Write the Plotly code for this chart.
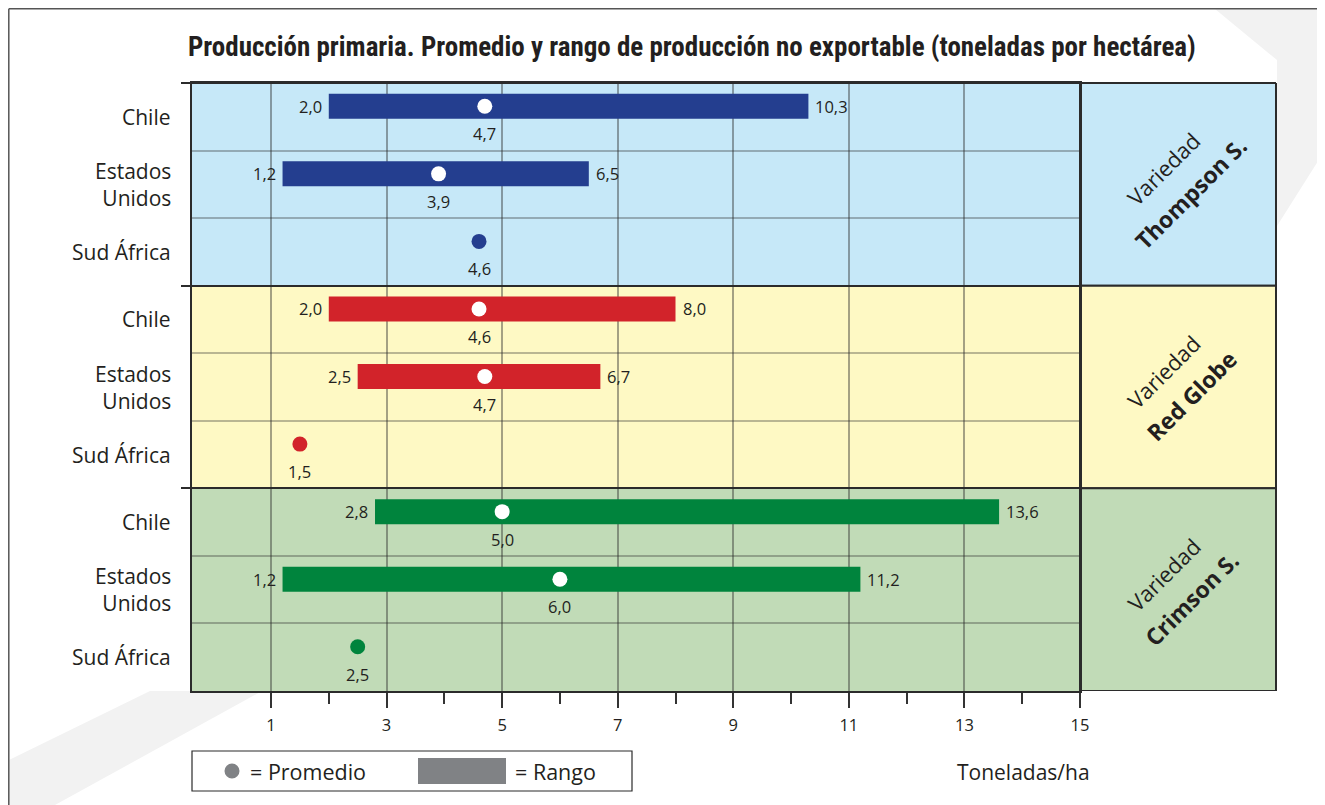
import plotly.graph_objects as go

# ---------------- data ----------------
varieties = ["Thompson S.", "Red Globe", "Crimson S."]
countries = ["Chile", "Estados<br>Unidos", "Sud África"]

thompson_min = [2.0, 1.2, None]
thompson_max = [10.3, 6.5, None]
thompson_avg = [4.7, 3.9, 4.6]

redglobe_min = [2.0, 2.5, None]
redglobe_max = [8.0, 6.7, None]
redglobe_avg = [4.6, 4.7, 1.5]

crimson_min = [2.8, 1.2, None]
crimson_max = [13.6, 11.2, None]
crimson_avg = [5.0, 6.0, 2.5]

x_tick_values = [1, 3, 5, 7, 9, 11, 13, 15]
x_minor_values = [2, 4, 6, 8, 10, 12, 14]

title_text = "Producción primaria. Promedio y rango de producción no exportable (toneladas por hectárea)"
unit_text = "Toneladas/ha"

# ---------------- style ----------------
bar_colors = ["#243e8f", "#d2232a", "#00843d"]
bg_colors = ["#c6e8f8", "#fef9c4", "#c1dbb7"]
ink = "#231f20"
frame = "#2b2b2b"
FONT = "Open Sans, Noto Sans, sans-serif"
TITLE_FONT = "Liberation Sans Narrow, Arial Narrow, Roboto Condensed, sans-serif"

# the page adds an 8px body margin; figure coordinates = page coordinates - 8
OFF = 8
W, H = 1325 - OFF, 805 - OFF
ML, MR, MT, MB = 192 - OFF, 49, 83 - OFF, 114
PW = W - ML - MR
PH = H - MT - MB
PLOT_RIGHT = 1080


def px(xp):  # page px -> paper x
    return (xp - OFF - ML) / PW


def py(yp):  # page px -> paper y
    return (H - MB - (yp - OFF)) / PH


def fmt(v):
    return f"{v:.1f}".replace(".", ",")


groups = [
    (thompson_min, thompson_max, thompson_avg),
    (redglobe_min, redglobe_max, redglobe_avg),
    (crimson_min, crimson_max, crimson_avg),
]

n_rows = len(varieties) * len(countries)
BAR_OFF = 0.155
fig = go.Figure()
annotations = []
shapes = []

for gi, (mins, maxs, avgs) in enumerate(groups):
    color = bar_colors[gi]
    centers = [n_rows - 0.5 - (gi * 3 + k) for k in range(3)]
    by, bx, bb = [], [], []
    for k in range(3):
        if mins[k] is not None:
            by.append(centers[k] + BAR_OFF)
            bx.append(maxs[k] - mins[k])
            bb.append(mins[k])
            annotations.append(dict(x=mins[k], y=centers[k] + BAR_OFF, xref="x", yref="y",
                                    text=fmt(mins[k]), showarrow=False, xanchor="right",
                                    yanchor="middle", xshift=-5,
                                    font=dict(family=FONT, size=16.5, color=ink)))
            annotations.append(dict(x=maxs[k], y=centers[k] + BAR_OFF, xref="x", yref="y",
                                    text=fmt(maxs[k]), showarrow=False, xanchor="left",
                                    yanchor="middle", xshift=5,
                                    font=dict(family=FONT, size=16.5, color=ink)))
    fig.add_trace(go.Bar(orientation="h", y=by, x=bx, base=bb, width=0.37,
                         marker=dict(color=color, line=dict(width=0)),
                         showlegend=False, hoverinfo="skip"))
    dot_colors = ["white" if mins[k] is not None else color for k in range(3)]
    fig.add_trace(go.Scatter(x=avgs, y=[c + BAR_OFF for c in centers], mode="markers",
                             marker=dict(size=15, color=dot_colors, line=dict(width=0)),
                             showlegend=False, hoverinfo="skip"))
    for k in range(3):
        annotations.append(dict(x=avgs[k], y=centers[k], xref="x", yref="y",
                                text=fmt(avgs[k]), showarrow=False, yshift=-17,
                                xanchor="center", yanchor="middle",
                                font=dict(family=FONT, size=16.5, color=ink)))
        annotations.append(dict(x=px(173), y=centers[k], xref="paper", yref="y",
                                text=countries[k], showarrow=False, xanchor="right",
                                yanchor="middle", align="right",
                                font=dict(family=FONT, size=21, color=ink)))
    y0 = n_rows - (gi + 1) * 3
    y1 = n_rows - gi * 3
    shapes.append(dict(type="rect", xref="x domain", yref="y", x0=0, x1=1, y0=y0, y1=y1,
                       fillcolor=bg_colors[gi], line=dict(width=0), layer="below"))
    shapes.append(dict(type="rect", xref="paper", yref="y", x0=px(PLOT_RIGHT), x1=px(1276),
                       y0=y0, y1=y1, fillcolor=bg_colors[gi],
                       line=dict(width=2, color=frame), layer="below"))
    gc = (y0 + y1) / 2
    annotations.append(dict(x=px(1178), y=gc, xref="paper", yref="y", text="Variedad",
                            showarrow=False, textangle=-45, xshift=-15, yshift=15,
                            xanchor="center", yanchor="middle",
                            font=dict(family=FONT, size=22, color=ink)))
    annotations.append(dict(x=px(1178), y=gc, xref="paper", yref="y",
                            text="<b>" + varieties[gi] + "</b>",
                            showarrow=False, textangle=-45, xshift=13, yshift=-9,
                            xanchor="center", yanchor="middle",
                            font=dict(family=FONT, size=23, color=ink)))

# page decorations (border + soft swooshes)
shapes.insert(0, dict(type="path", xref="paper", yref="paper",
                      path=f"M {px(1215)},{py(9)} L {px(1325)},{py(9)} L {px(1325)},{py(150)} "
                           f"L {px(1277)},{py(226)} L {px(1277)},{py(60)} Z",
                      fillcolor="#f2f2f2", line=dict(width=0), layer="below"))
shapes.insert(0, dict(type="path", xref="paper", yref="paper",
                      path=f"M {px(9)},{py(805)} L {px(55)},{py(805)} L {px(262)},{py(691)} "
                           f"L {px(150)},{py(691)} L {px(9)},{py(760)} Z",
                      fillcolor="#f2f2f2", line=dict(width=0), layer="below"))
shapes.append(dict(type="line", xref="paper", yref="paper", x0=px(8.8), x1=px(1330),
                   y0=py(8.8), y1=py(8.8), line=dict(color="#555555", width=1.5)))
shapes.append(dict(type="line", xref="paper", yref="paper", x0=px(8.8), x1=px(8.8),
                   y0=py(8.8), y1=py(810), line=dict(color="#555555", width=1.5)))

# legend box
shapes.append(dict(type="rect", xref="paper", yref="paper", x0=px(192), x1=px(632),
                   y0=py(791), y1=py(751), fillcolor="white",
                   line=dict(color=frame, width=1.2)))
shapes.append(dict(type="circle", xref="paper", yref="paper", x0=px(224.5), x1=px(239.5),
                   y0=py(778.5), y1=py(763.5), fillcolor="#808285", line=dict(width=0)))
shapes.append(dict(type="rect", xref="paper", yref="paper", x0=px(418), x1=px(506),
                   y0=py(784), y1=py(758), fillcolor="#808285", line=dict(width=0)))
annotations.append(dict(x=px(248), y=py(771), xref="paper", yref="paper", text="= Promedio",
                        showarrow=False, xanchor="left", yanchor="middle",
                        font=dict(family=FONT, size=21.5, color=ink)))
annotations.append(dict(x=px(513), y=py(771), xref="paper", yref="paper", text="= Rango",
                        showarrow=False, xanchor="left", yanchor="middle",
                        font=dict(family=FONT, size=21.5, color=ink)))
annotations.append(dict(x=px(955), y=py(772), xref="paper", yref="paper", text=unit_text,
                        showarrow=False, xanchor="left", yanchor="middle",
                        font=dict(family=FONT, size=21, color=ink)))
annotations.append(dict(x=px(186), y=py(47), xref="paper", yref="paper",
                        text="<b>" + title_text + "</b>", showarrow=False,
                        xanchor="left", yanchor="middle",
                        font=dict(family=TITLE_FONT, size=27, color=ink)))
shapes.append(dict(type="line", xref="paper", yref="paper", x0=px(184), x1=px(1276),
                   y0=1, y1=1, line=dict(color=frame, width=2)))

fig.update_layout(
    width=W, height=H, autosize=False,
    margin=dict(l=ML, r=MR, t=MT, b=MB, pad=0),
    paper_bgcolor="white", plot_bgcolor="white",
    barmode="overlay", showlegend=False,
    shapes=shapes, annotations=annotations,
    xaxis=dict(domain=[0, px(PLOT_RIGHT)], range=[-0.367, 15],
               tickmode="array", tickvals=x_tick_values,
               ticktext=[str(v) for v in x_tick_values],
               ticks="outside", ticklen=15, tickwidth=1.5, tickcolor="#333",
               ticklabelstandoff=3,
               tickfont=dict(family=FONT, size=16.5, color=ink),
               showgrid=True, gridcolor="rgba(40,40,40,0.42)", gridwidth=1.5,
               showline=True, linecolor=frame, linewidth=2, mirror=True,
               zeroline=False, fixedrange=True,
               minor=dict(tickmode="array", tickvals=x_minor_values, ticks="outside",
                          ticklen=11, tickwidth=1.5, tickcolor="#333", showgrid=False)),
    yaxis=dict(range=[0, n_rows], tickmode="array", tickvals=[1, 2, 4, 5, 7, 8],
               showticklabels=False, ticks="",
               showgrid=True, gridcolor="rgba(40,40,40,0.32)", gridwidth=1.5,
               showline=True, linecolor=frame, linewidth=2, mirror=True,
               zeroline=False, fixedrange=True,
               minor=dict(tickmode="array", tickvals=[3, 6, 9], ticks="outside",
                          ticklen=9, tickwidth=2, tickcolor=frame,
                          showgrid=True, gridcolor=frame, gridwidth=2)),
)

fig.write_html("out.html")
